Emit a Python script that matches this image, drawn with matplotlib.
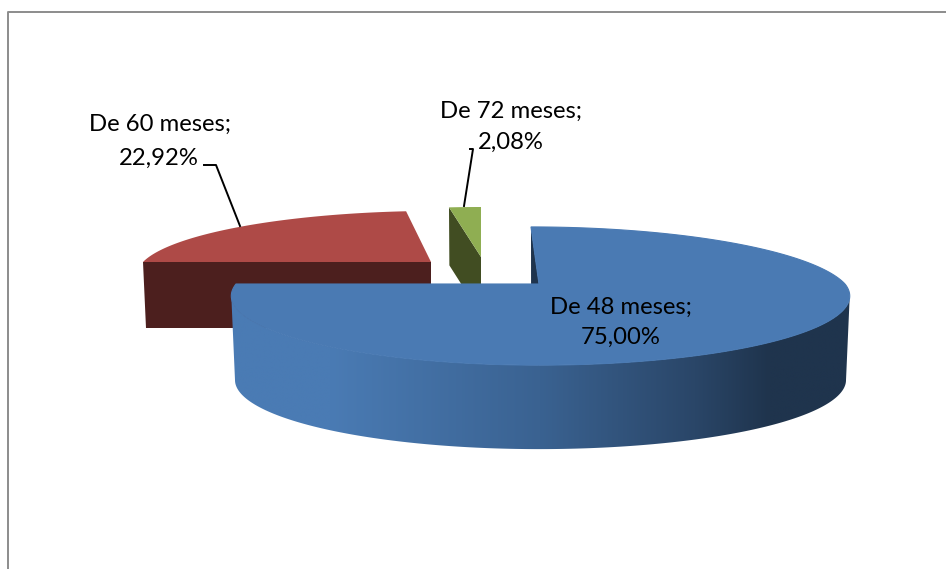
import matplotlib
matplotlib.use('Agg')
import matplotlib.pyplot as plt
import numpy as np
from matplotlib.colors import LinearSegmentedColormap
from matplotlib.patches import Polygon

# Data
categories = ['De 48 meses', 'De 60 meses', 'De 72 meses']
percentages = [75.00, 22.92, 2.08]

# Style of each slice, same order as the data
top_colors = ['#4A7AB3', '#AE4A47', '#8FAE52']
side_colors = ['#1F344D', '#4C1F1E', '#414D22']
centers = [(539, 284), (431, 262), (481, 257)]  # exploded slices, pixels
radius_right = [306, 288, 288]
radius_left = [303, 288, 288]
radius_y = [67, 60, 58.7]
depths = [84, 66, 58]
skews = [-9.4, 8.4, 0]
persp = 0.174
bottom_shrink = 0.988

# Shading of the round wall of the big slice, left to right
shade = [(0.0, '#4A7BB4'), (0.16, '#4A7BB4'), (0.5, '#3A6291'),
         (0.75, '#2A4668'), (0.87, '#1F344D'), (1.0, '#1F344D')]

fig = plt.figure(figsize=(9.46, 5.69), dpi=100)
ax = fig.add_axes([0, 0, 1, 1])
ax.set_xlim(0, 946)
ax.set_ylim(569, 0)
ax.axis('off')


def rim(i, angle, low=False):
    # angle in degrees clockwise from 12 o'clock, perspective ellipse
    t = np.radians(angle)
    u, v = np.sin(t), np.cos(t)
    cx, cy = centers[i]
    rx = np.where(u < 0, radius_left[i], radius_right[i])
    x = (rx * u + skews[i] * np.clip(v, 0, None)) / (1 + persp * v)
    y = -radius_y[i] * v / (1 + persp * v)
    if low:
        return cx + x * bottom_shrink, cy + y + depths[i]
    return cx + x, cy + y


def radial_wall(i, angle):
    cx, cy = centers[i]
    x0, y0 = rim(i, angle)
    x1, y1 = rim(i, angle, low=True)
    return [(x0, y0), (cx, cy), (cx, cy + depths[i]), (x1, y1)]


def top_face(i, a0, a1):
    angs = np.linspace(a0, a1, 300)
    x, y = rim(i, angs)
    return np.vstack([[centers[i]], np.column_stack([x, y])])


# Slice angles from the values
ends = np.cumsum(percentages) * 3.6
starts = ends - np.array(percentages) * 3.6

# Back slices first, big one goes over them
for i in [1, 2]:
    ax.fill(*zip(*radial_wall(i, starts[i])), color=side_colors[i], lw=0, zorder=2)
    ax.fill(*top_face(i, starts[i], ends[i]).T, color=top_colors[i], lw=0, zorder=3)

# Big slice: cut face, round wall with gradient, top
ax.fill(*zip(*radial_wall(0, starts[0])), color=side_colors[0], lw=0, zorder=4)

# Wall outline runs between the widest points of the rim, not the slice ends
angs = np.linspace(90, 270, 720)
xt, yt = rim(0, angs)
xb, yb = rim(0, angs, low=True)
a, b = np.argmax(xt), np.argmin(xt)
upper = np.column_stack([xt[a:b + 1], yt[a:b + 1]])
lower = np.column_stack([xb[a:b + 1], yb[a:b + 1]])
wall = Polygon(np.vstack([upper, lower[::-1]]), closed=True, fc='none', ec='none',
               transform=ax.transData)
ax.add_patch(wall)
cmap = LinearSegmentedColormap.from_list('wall', shade, N=512)
img = ax.imshow(np.linspace(0, 1, 512)[None, :], cmap=cmap, aspect='auto', zorder=5,
                extent=(xt.min(), xt.max(), yb.max() + 2, yt.min() - 2), interpolation='bilinear')
img.set_clip_path(wall)
ax.set_xlim(0, 946)
ax.set_ylim(569, 0)
# thin edge of the same colour hides the seam with the wall
ax.fill(*top_face(0, starts[0], ends[0]).T, fc=top_colors[0], ec=top_colors[0], lw=0.8, zorder=6)

# Chart frame, only top and left are in the picture
ax.plot([8, 8, 946], [569, 12, 12], color='#8C8C8C', lw=1.4, zorder=1)

# Leader lines
ax.plot([204, 216, 240], [165, 165, 226], color='black', lw=1.4, zorder=7)
ax.plot([470, 473, 464], [149, 149, 206], color='black', lw=1.4, zorder=7)

# Data labels
label_pos = [((621, 307), (621, 337)), ((160, 124), (159, 158)), ((511, 111), (511, 142))]
for cat, pct, (p1, p2) in zip(categories, percentages, label_pos):
    ax.text(p1[0], p1[1], f'{cat};', ha='center', va='center', fontsize=17.2,
            family='Lato', color='black', zorder=8)
    ax.text(p2[0], p2[1], f'{pct:.2f}%'.replace('.', ','), ha='center', va='center',
            fontsize=17.2, family='Lato', color='black', zorder=8)

fig.savefig('out.png', dpi=100)
